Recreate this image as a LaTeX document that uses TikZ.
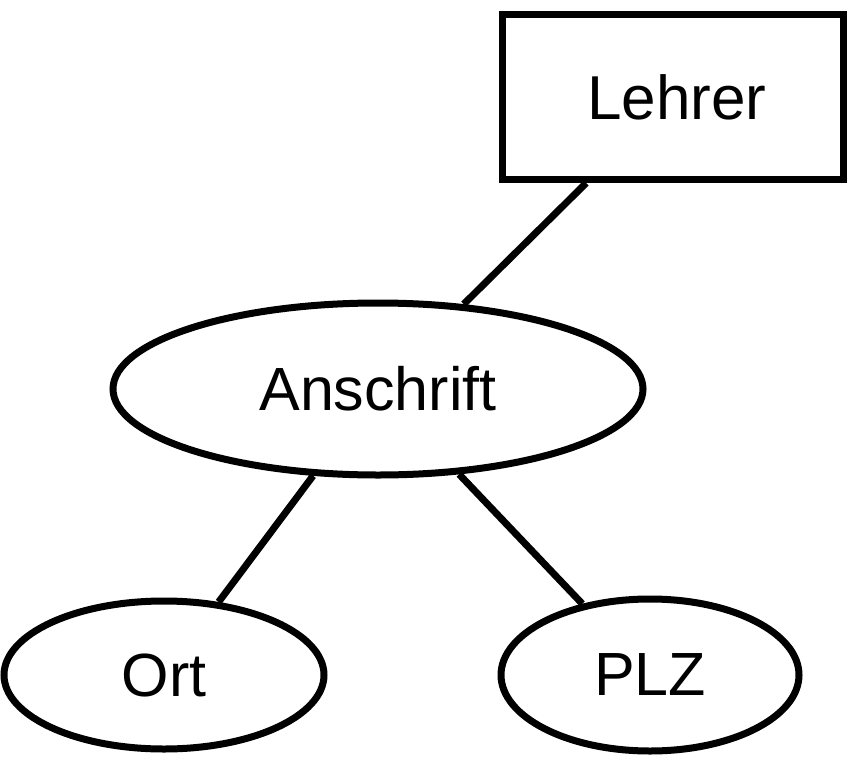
\documentclass[tikz,border=0pt]{standalone}
\usepackage{fontspec}
\setmainfont{Liberation Sans}
\usetikzlibrary{shapes.geometric}
\begin{document}
\begin{tikzpicture}[x=1pt,y=-1pt,
  ent/.style={draw,line width=7pt,minimum width=341pt,minimum height=165pt,inner sep=0pt,font=\fontsize{62}{72}\selectfont},
  attr/.style={draw,ellipse,line width=7pt,inner sep=0pt,font=\fontsize{61}{72}\selectfont},
  conn/.style={line width=7pt}]
\useasboundingbox (0,0) rectangle (848,765);
\node[ent] (lehrer) at (673,97) {\hspace*{8pt}Lehrer};
\node[attr,minimum width=530pt,minimum height=172pt] (anschrift) at (378,389) {Anschrift};
\node[attr,minimum width=320pt,minimum height=148pt] (ort) at (164,675) {Ort};
\node[attr,minimum width=298pt,minimum height=152pt] (plz) at (650,675) {PLZ};
\draw[conn] (lehrer) -- (anschrift);
\draw[conn] (anschrift) -- (ort);
\draw[conn] (anschrift) -- (plz);
\end{tikzpicture}
\end{document}
